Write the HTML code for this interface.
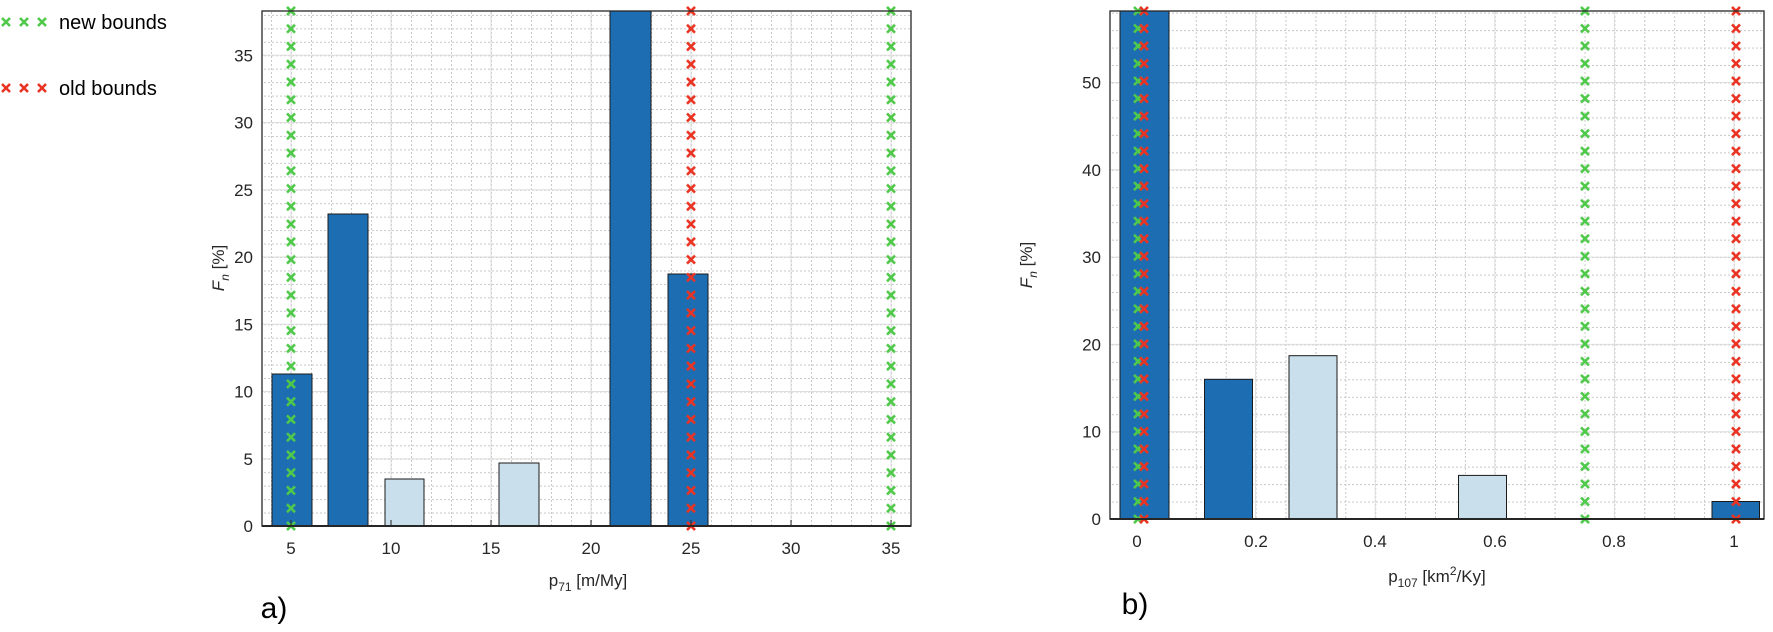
<!DOCTYPE html>
<html><head><meta charset="utf-8"><style>
html,body{margin:0;padding:0;background:#fff;}
svg{display:block;}
text{font-family:"Liberation Sans",Arial,sans-serif;fill:#262626;}
</style></head><body>
<svg width="1773" height="632" viewBox="0 0 1773 632" xmlns="http://www.w3.org/2000/svg">
<defs>
<pattern id="gx1" patternUnits="userSpaceOnUse" x="284" y="517.12" width="14" height="17.76">
<path d="M3,4.9 L11,12.9 M11,4.9 L3,12.9" stroke="#4fc94a" stroke-width="2.6"/></pattern>
<pattern id="gx2" patternUnits="userSpaceOnUse" x="884" y="517.12" width="14" height="17.76">
<path d="M3,4.9 L11,12.9 M11,4.9 L3,12.9" stroke="#4fc94a" stroke-width="2.6"/></pattern>
<pattern id="rx" patternUnits="userSpaceOnUse" x="684" y="517.12" width="14" height="17.76">
<path d="M3,4.9 L11,12.9 M11,4.9 L3,12.9" stroke="#ea3323" stroke-width="2.6"/></pattern>
<pattern id="gxb1" patternUnits="userSpaceOnUse" x="1131" y="510.24" width="14" height="17.52">
<path d="M3,4.8 L11,12.8 M11,4.8 L3,12.8" stroke="#4fc94a" stroke-width="2.6"/></pattern>
<pattern id="gxb2" patternUnits="userSpaceOnUse" x="1578" y="510.24" width="14" height="17.52">
<path d="M3,4.8 L11,12.8 M11,4.8 L3,12.8" stroke="#4fc94a" stroke-width="2.6"/></pattern>
<pattern id="rxb1" patternUnits="userSpaceOnUse" x="1137" y="510.24" width="14" height="17.52">
<path d="M3,4.8 L11,12.8 M11,4.8 L3,12.8" stroke="#ea3323" stroke-width="2.6"/></pattern>
<pattern id="rxb2" patternUnits="userSpaceOnUse" x="1729" y="510.24" width="14" height="17.52">
<path d="M3,4.8 L11,12.8 M11,4.8 L3,12.8" stroke="#ea3323" stroke-width="2.6"/></pattern>
<pattern id="mva" patternUnits="userSpaceOnUse" x="291" y="0" width="20" height="4"><line x1="0.5" y1="0" x2="0.5" y2="2" stroke="#c8c8c8" stroke-width="1"/></pattern>
<pattern id="mha" patternUnits="userSpaceOnUse" x="0" y="526" width="4" height="13.45"><line x1="0" y1="0.5" x2="2" y2="0.5" stroke="#c8c8c8" stroke-width="1"/></pattern>
<pattern id="mvb" patternUnits="userSpaceOnUse" x="1136" y="0" width="29.9" height="4"><line x1="0.5" y1="0" x2="0.5" y2="2" stroke="#c8c8c8" stroke-width="1"/></pattern>
<pattern id="mhb" patternUnits="userSpaceOnUse" x="0" y="519" width="4" height="17.46"><line x1="0" y1="0.5" x2="2" y2="0.5" stroke="#c8c8c8" stroke-width="1"/></pattern>
</defs>

<!-- legend -->
<g stroke-width="2.6">
<path d="M2,18 L10,26 M10,18 L2,26 M20,18 L28,26 M28,18 L20,26 M38,18 L46,26 M46,18 L38,26" stroke="#4fc94a"/>
<path d="M2,84 L10,92 M10,84 L2,92 M20,84 L28,92 M28,84 L20,92 M38,84 L46,92 M46,84 L38,92" stroke="#ea3323"/>
</g>
<text x="59" y="29" font-size="20" style="fill:#000">new bounds</text>
<text x="59" y="95" font-size="20" style="fill:#000">old bounds</text>

<!-- ===== Chart a ===== -->
<rect x="262" y="11" width="649" height="515" fill="url(#mva)"/>
<rect x="262" y="11" width="649" height="515" fill="url(#mha)"/>
<g stroke="#dedede" stroke-width="1">
<line x1="391" y1="11" x2="391" y2="526"/><line x1="491" y1="11" x2="491" y2="526"/><line x1="591" y1="11" x2="591" y2="526"/><line x1="691" y1="11" x2="691" y2="526"/><line x1="791" y1="11" x2="791" y2="526"/><line x1="291" y1="11" x2="291" y2="526"/><line x1="891" y1="11" x2="891" y2="526"/>
<line x1="262" y1="458.75" x2="911" y2="458.75"/><line x1="262" y1="391.5" x2="911" y2="391.5"/><line x1="262" y1="324.25" x2="911" y2="324.25"/><line x1="262" y1="257" x2="911" y2="257"/><line x1="262" y1="189.75" x2="911" y2="189.75"/><line x1="262" y1="122.5" x2="911" y2="122.5"/><line x1="262" y1="55.25" x2="911" y2="55.25"/>
</g>
<g stroke="#1a1a1a" stroke-width="1">
<rect x="272" y="374" width="40" height="152" fill="#1c6db2"/>
<rect x="328" y="214" width="40" height="312" fill="#1c6db2"/>
<rect x="385" y="479" width="39" height="47" fill="#c9dfec"/>
<rect x="499" y="463" width="40" height="63" fill="#c9dfec"/>
<rect x="610" y="11" width="41" height="515" fill="#1c6db2"/>
<rect x="668" y="274" width="40" height="252" fill="#1c6db2"/>
</g>
<rect x="284" y="2" width="14" height="533" fill="url(#gx1)"/>
<rect x="884" y="2" width="14" height="533" fill="url(#gx2)"/>
<rect x="684" y="2" width="14" height="533" fill="url(#rx)"/>
<rect x="262" y="11" width="649" height="515" fill="none" stroke="#262626" stroke-width="1.3"/>
<line x1="262" y1="526" x2="911" y2="526" stroke="#262626" stroke-width="2"/>
<g stroke="#262626" stroke-width="1">
<line x1="291" y1="526" x2="291" y2="520"/><line x1="391" y1="526" x2="391" y2="520"/><line x1="491" y1="526" x2="491" y2="520"/><line x1="591" y1="526" x2="591" y2="520"/><line x1="691" y1="526" x2="691" y2="520"/><line x1="791" y1="526" x2="791" y2="520"/><line x1="891" y1="526" x2="891" y2="520"/>
</g>
<g font-size="17" text-anchor="middle">
<text x="291" y="554">5</text><text x="391" y="554">10</text><text x="491" y="554">15</text><text x="591" y="554">20</text><text x="691" y="554">25</text><text x="791" y="554">30</text><text x="891" y="554">35</text>
</g>
<g font-size="17" text-anchor="end">
<text x="253" y="532">0</text><text x="253" y="464.75">5</text><text x="253" y="397.5">10</text><text x="253" y="330.25">15</text><text x="253" y="263">20</text><text x="253" y="195.75">25</text><text x="253" y="128.5">30</text><text x="253" y="61.25">35</text>
</g>
<text x="588" y="586" font-size="17" text-anchor="middle">p<tspan font-size="12" dy="5">71</tspan><tspan dy="-5"> [m/My]</tspan></text>
<text transform="translate(224,268) rotate(-90)" font-size="17" text-anchor="middle"><tspan font-style="italic">F</tspan><tspan font-style="italic" font-size="12" dy="5">n</tspan><tspan dy="-5"> [%]</tspan></text>
<text x="274" y="618" font-size="30" text-anchor="middle" style="fill:#000">a)</text>

<!-- ===== Chart b ===== -->
<rect x="1110" y="11" width="654" height="508" fill="url(#mvb)"/>
<rect x="1110" y="11" width="654" height="508" fill="url(#mhb)"/>
<g stroke="#dedede" stroke-width="1">
<line x1="1136" y1="11" x2="1136" y2="519"/><line x1="1255.6" y1="11" x2="1255.6" y2="519"/><line x1="1375.2" y1="11" x2="1375.2" y2="519"/><line x1="1494.8" y1="11" x2="1494.8" y2="519"/><line x1="1614.4" y1="11" x2="1614.4" y2="519"/><line x1="1734" y1="11" x2="1734" y2="519"/>
<line x1="1110" y1="431.7" x2="1764" y2="431.7"/><line x1="1110" y1="344.4" x2="1764" y2="344.4"/><line x1="1110" y1="257.1" x2="1764" y2="257.1"/><line x1="1110" y1="169.8" x2="1764" y2="169.8"/><line x1="1110" y1="82.5" x2="1764" y2="82.5"/>
</g>
<g stroke="#1a1a1a" stroke-width="1">
<rect x="1120" y="11" width="49" height="508" fill="#1c6db2"/>
<rect x="1204.5" y="379.3" width="48" height="139.7" fill="#1c6db2"/>
<rect x="1289" y="355.7" width="48" height="163.3" fill="#c9dfec"/>
<rect x="1458.5" y="475.4" width="48" height="43.6" fill="#c9dfec"/>
<rect x="1712" y="501.5" width="47.5" height="17.5" fill="#1c6db2"/>
</g>
<rect x="1131" y="2" width="14" height="526" fill="url(#gxb1)"/>
<rect x="1137" y="2" width="14" height="526" fill="url(#rxb1)"/>
<rect x="1578" y="2" width="14" height="526" fill="url(#gxb2)"/>
<rect x="1729" y="2" width="14" height="526" fill="url(#rxb2)"/>
<rect x="1110" y="11" width="654" height="508" fill="none" stroke="#262626" stroke-width="1.3"/>
<line x1="1110" y1="519" x2="1764" y2="519" stroke="#262626" stroke-width="2"/>
<g font-size="17" text-anchor="middle">
<text x="1137" y="547">0</text><text x="1256" y="547">0.2</text><text x="1375" y="547">0.4</text><text x="1495" y="547">0.6</text><text x="1614" y="547">0.8</text><text x="1734" y="547">1</text>
</g>
<g font-size="17" text-anchor="end">
<text x="1101" y="525">0</text><text x="1101" y="437.7">10</text><text x="1101" y="350.4">20</text><text x="1101" y="263.1">30</text><text x="1101" y="175.8">40</text><text x="1101" y="88.5">50</text>
</g>
<text x="1437" y="582" font-size="17" text-anchor="middle">p<tspan font-size="12" dy="5">107</tspan><tspan dy="-5"> [km</tspan><tspan font-size="12" dy="-7">2</tspan><tspan dy="7">/Ky]</tspan></text>
<text transform="translate(1032,265) rotate(-90)" font-size="17" text-anchor="middle"><tspan font-style="italic">F</tspan><tspan font-style="italic" font-size="12" dy="5">n</tspan><tspan dy="-5"> [%]</tspan></text>
<text x="1135" y="614" font-size="30" text-anchor="middle" style="fill:#000">b)</text>
</svg>
</body></html>
